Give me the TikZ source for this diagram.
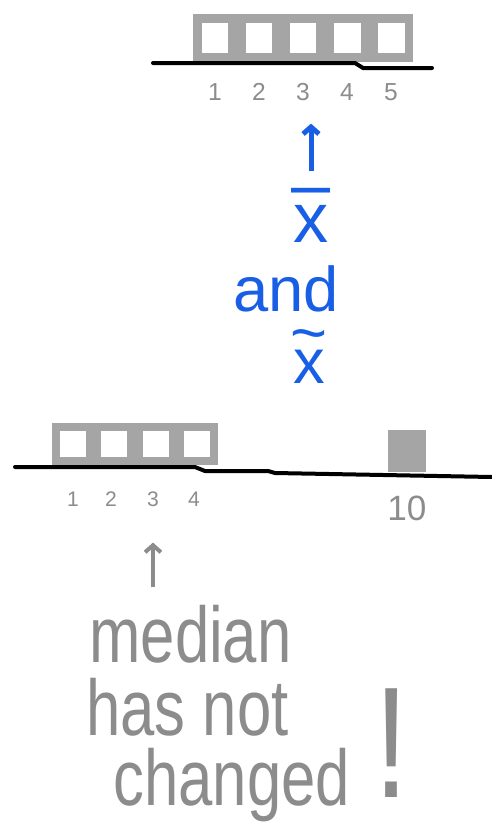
\documentclass[tikz,border=0pt]{standalone}
\usepackage{fontspec}
\setmainfont{Liberation Sans}
\newfontfamily\handfont[FakeStretch=0.78]{Liberation Sans}
\usetikzlibrary{arrows.meta, positioning}
\definecolor{boxgray}{RGB}{165,165,165}
\definecolor{textgray}{RGB}{140,140,140}
\definecolor{penblue}{RGB}{25,95,230}

\begin{document}
\begin{tikzpicture}[x=0.02cm,y=-0.02cm,
  cell/.style={draw=boxgray,line width=0.17cm,minimum width=0.71cm,
               minimum height=0.78cm,inner sep=0pt},
  smallcell/.style={cell,line width=0.16cm,minimum width=0.67cm,minimum height=0.68cm},
  tick/.style={anchor=base,inner sep=0pt,text=textgray,font=\fontsize{14}{16}\selectfont},
  smalltick/.style={tick,font=\fontsize{12}{14}\selectfont},
  axis/.style={line width=0.08cm,line cap=round,line join=round},
  blue/.style={text=penblue,inner sep=0pt,anchor=base,align=center},
  hand/.style={text=textgray,inner sep=0pt,anchor=base west,
               font=\handfont\fontsize{45}{50}\selectfont},
  bluearr/.style={-{Straight Barb[length=4pt,width=9pt]},draw=penblue,line width=0.1cm,
                  shorten <=0.34cm,shorten >=0.46cm},
  grayarr/.style={-{Straight Barb[length=4pt,width=9pt]},draw=textgray,line width=0.08cm,
                  shorten <=0.34cm,shorten >=0.72cm}
]
\useasboundingbox (0,0) rectangle (492,829);

% Top data set
\foreach \i/\x in {1/215, 2/259, 3/303, 4/347, 5/391} {
  \node[cell] (ta\i) at (\x,38) {};
  \node[tick] (tl\i) at (\x,100) {\i};
}
\draw[axis] (153,63) -- (355,63) -- (363,68) -- (432,68);

% Mean and median
\node[blue,font={\fontsize{40}{19}\selectfont\lineskiplimit=-50pt\relax}] (xbar) at (311,242) {–\\x};
\node[blue,font=\fontsize{36}{40}\selectfont] (and) at (286,311) {and};
\node[blue,font={\fontsize{36}{16.5}\selectfont\lineskiplimit=-50pt\relax}] (xtilde) at (309,383) {\char`\~\\x};
\draw[bluearr] (xbar.north) -- (xbar.north |- tl3.south);

% Bottom data set
\foreach \i/\x in {1/73, 2/114, 3/156, 4/197} {
  \node[smallcell] (ba\i) at (\x,444) {};
}
\foreach \i/\x in {1/73, 2/111, 3/153, 4/194} {
  \node[smalltick] (bl\i) at (\x,506) {\i};
}
\node[fill=boxgray,minimum width=0.78cm,minimum height=0.84cm,inner sep=0pt] (outlier) at (407,451) {};
\node[tick,font=\fontsize{20}{22}\selectfont] (bl10) at (407,520) {10};
\draw[axis] (15,467) -- (195,467) -- (205,471) -- (268,471) -- (275,473) -- (492,477);

% Comment
\node[hand] (median) at (89,662) {median};
\node[hand] (hasnot) at (86,735) {has not};
\node[hand] (changed) at (113,805) {changed};
\node[hand,font=\handfont\fontsize{90}{90}\selectfont] (bang) at (374,797) {!};
\draw[grayarr] (bl3.south |- median.north) -- (bl3.south);

\end{tikzpicture}
\end{document}
